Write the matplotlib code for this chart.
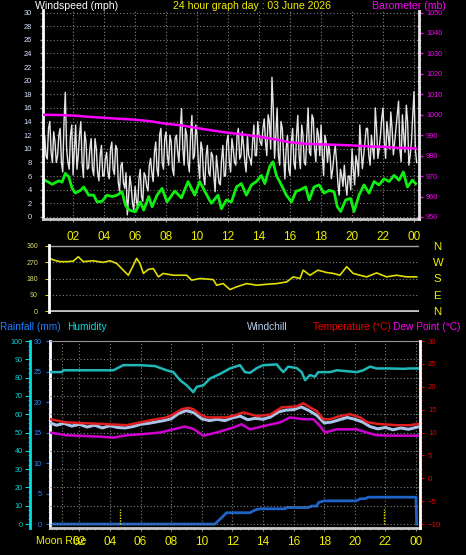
import numpy as np
import matplotlib

matplotlib.use("Agg")
import matplotlib.pyplot as plt  # noqa: E402
from matplotlib.ticker import MultipleLocator  # noqa: E402

plt.rcParams["font.family"] = ["Liberation Sans", "DejaVu Sans"]

# ── data ─────────────────────────────────────────────────────────────────────
HOUR_TICKS = [2, 4, 6, 8, 10, 12, 14, 16, 18, 20, 22, 24]
HOUR_LABELS = ["02", "04", "06", "08", "10", "12", "14", "16", "18", "20", "22", "00"]

# wind gust readings on the 10-minute marks from 00:00 (mph)
gust_on = [
    10, 12, 8.5, 14, 8, 11,
    9, 13, 6.6, 18.3, 8, 12,
    6.2, 13.5, 9, 14, 5.8, 11,
    7.2, 11.5, 6.1, 10, 5.3, 10.5,
    6, 9.5, 5.6, 11, 6.2, 10,
    3.8, 8, 4.2, 0.3, 6, 2,
    4.5, 1.3, 7, 2.3, 6, 3.8,
    8.6, 5.2, 11, 6, 13, 7,
    12.5, 7.6, 11, 6.1, 12, 8,
    15.9, 7.6, 12, 6.6, 14.9, 9,
    12, 5.6, 10, 4.7, 10.5, 6,
    9, 3.7, 7, 4.7, 10.5, 6,
    12, 6.6, 10, 7.6, 13, 9,
    10.5, 6.6, 9, 7.6, 13.5, 9,
    12, 10.5, 14.4, 9, 14, 20.5,
    8.6, 16, 7.6, 13, 5.6, 12,
    6.1, 13, 7, 14.9, 7.1, 12,
    7.6, 16, 9, 14.4, 8.1, 12,
    13.5, 6.1, 11, 10.5, 5.6, 9,
    8.1, 3.2, 6, 7.6, 3.2, 6,
    10, 4.7, 8, 13.5, 7.1, 11,
    13, 7.6, 10, 16, 8.6, 12,
    16, 8.6, 12, 15.4, 9.1, 13,
    17, 8.1, 12, 16.4, 7.6, 11,
    18.4, 8,
]
# readings five minutes after each of those marks
gust_off = [
    11, 9, 13, 9.5, 12.5, 8,
    12, 8, 14, 10, 7, 13.5,
    10, 7, 12, 8, 12.5, 7,
    10, 7, 11.5, 6.5, 9, 6,
    8.5, 6.5, 10, 7, 10.5, 5,
    7.5, 5, 6.5, 3, 4.5, 1,
    2.5, 5.5, 3, 6.5, 4.5, 7.5,
    6.5, 9.5, 7, 12, 8, 11.5,
    9, 12, 7, 11.5, 9.5, 13,
    10, 13, 8, 12, 8.5, 13.5,
    8, 11, 6, 9, 6.5, 9.5,
    6, 9, 5, 8.5, 6, 11,
    8, 11.5, 8, 12, 8.5, 12.5,
    8, 12, 8.5, 11, 9, 14,
    11, 13, 11, 15, 10, 16,
    12, 9, 14, 9, 10, 7,
    11, 8, 12, 9, 13.5, 8,
    12, 9.5, 15, 10, 13, 9,
    9, 12, 8, 9, 7, 10.5,
    5, 7, 4.5, 5, 6, 4,
    7, 9, 6, 10, 9, 13,
    9, 12, 8.5, 13, 10, 14.5,
    11, 14, 10, 13, 11, 15,
    10, 15, 9.5, 14, 9, 15,
    10,
]

avg_hours = [0.1, 0.65, 1.08, 1.29, 1.5, 1.72, 1.94, 2.15, 2.47, 2.69, 3.01, 3.33,
             3.55, 3.87, 4.19, 4.52, 4.84, 5.16, 5.38, 5.63, 6.02, 6.34, 6.56, 6.88,
             7.1, 7.42, 7.74, 8.06, 8.56, 8.99, 9.42, 9.85, 10.17, 10.49, 10.92,
             11.35, 11.57, 11.89, 12.22, 12.54, 12.86, 13.18, 13.51, 13.83, 14.15,
             14.37, 14.69, 14.9, 15.12, 15.44, 15.76, 16.09, 16.39, 16.58, 17.01,
             17.23, 17.55, 17.87, 18.19, 18.52, 18.84, 19.05, 19.27, 19.59, 19.91,
             20.13, 20.45, 20.77, 21.1, 21.42, 21.74, 22.06, 22.39, 22.71, 23.03,
             23.31, 23.57, 23.89, 24.1]
avg_wind = [5.5, 4.8, 5.3, 5.1, 6.4, 5.9, 4.2, 3.5, 3.9, 4.4, 3.2, 3.2,
            2.2, 2.3, 3.2, 3.0, 3.2, 3.7, 1.7, 1.0, 0.75, 2.2, 1.0, 3.0,
            1.5, 3.2, 4.2, 2.2, 3.8, 2.8, 5.2, 3.2, 5.2, 3.8, 2.0,
            3.2, 1.2, 2.5, 2.2, 4.4, 4.9, 3.2, 4.7, 5.2, 6.1,
            4.9, 7.4, 8.1, 6.1, 4.7, 3.2, 2.2, 3.8, 3.9, 4.4,
            2.5, 4.4, 4.7, 3.5, 3.9, 3.7, 1.5, 0.8, 2.5, 2.7,
            0.8, 3.2, 4.7, 3.5, 5.2, 4.7, 5.6, 5.2, 6.1, 5.4,
            6.6, 4.4, 5.4, 4.9]

baro_hours = [0.1, 1, 2, 3, 4, 5, 6, 7, 8, 9, 10, 11, 12, 13, 14, 15, 16, 17,
              18, 19, 20, 21, 22, 23, 24.1]
baro = [1000, 999.9, 999.6, 999.0, 998.5, 998.0, 997.6, 996.8, 995.6, 994.8,
        993.5, 992.3, 991.2, 990.3, 989.3, 988.0, 986.5, 985.8, 985.5, 985.3,
        985.0, 984.5, 984.3, 983.8, 983.5]

dir_hours = [0.08, 0.3, 0.73, 1.17, 1.6, 1.93, 2.25, 2.9, 3.56, 4.0, 4.44, 4.76,
             5.2, 5.42, 5.74, 5.96, 6.18, 6.5, 6.83, 7.16, 7.48, 8.14, 9.01, 9.34,
             9.88, 10.75, 10.97, 11.4, 11.84, 12.28, 12.93, 13.59, 14.24, 14.9,
             15.55, 15.98, 16.42, 16.63, 17.07, 17.6, 18.16, 18.6, 19.03, 19.47,
             19.9, 20.34, 20.78, 21.43, 22.08, 22.74, 23.39, 24.05]
wind_dir = [291, 282, 273, 273, 276, 300, 273, 278, 269, 278, 263, 235,
            198, 235, 291, 263, 208, 230, 235, 189, 208, 198, 198, 171,
            180, 174, 143, 152, 119, 134, 152, 143, 148, 152,
            161, 189, 180, 226, 198, 226, 213, 208, 198, 245,
            208, 198, 189, 211, 189, 198, 189, 189]

hum_hours = [0.08, 0.84, 0.95, 4.22, 4.87, 5.96, 6.94, 7.7, 8.14, 8.58, 9.01, 9.34,
             9.44, 9.67, 10.1, 10.54, 11.19, 11.84, 12.5, 12.82, 13.15, 13.59,
             14.02, 14.9, 15.11, 15.33, 15.65, 16.2, 16.53, 16.75, 17.07, 17.4,
             17.61, 18.38, 18.82, 20.12, 20.56, 20.99, 21.43, 22.3, 23.17, 23.61,
             24.15]
humidity = [83, 83, 84, 84, 86.8, 86.8, 86.3, 84, 83, 78.6, 75.8, 73,
            72, 75, 75.8, 79.5, 82, 85, 86.8, 83, 82.6, 85.2,
            86.8, 87.2, 85, 83, 86, 85.2, 83, 78.6, 81.4, 80.5,
            83, 83, 84, 83, 84, 86, 85, 85, 84.8, 85, 85]

temp_hours = [0.08, 1.17, 3.35, 5.09, 5.96, 6.83, 7.7, 8.14, 8.69, 9.12, 9.44,
              9.88, 10.32, 11.63, 12.2, 12.71, 13.59, 14.46, 15.22, 16.2, 16.63,
              17.07, 17.51, 17.94, 18.38, 19.03, 19.69, 20.34, 20.78, 21.43,
              22.74, 23.61, 24.15]
temperature = [12.9, 12.2, 11.9, 11.6, 12.2, 12.8, 13.3, 14.0, 15.1, 15.4, 15.1,
               14.0, 13.3, 13.3, 13.8, 14.4, 13.6, 13.9, 15.5, 15.7, 16.4,
               15.5, 14.7, 12.9, 12.9, 13.6, 14.0, 13.3, 12.3, 11.9,
               11.6, 11.6, 11.9]

chill_hours = [0, 0.5, 1, 1.5, 2, 2.5, 3, 3.5, 4, 4.5, 5, 5.5, 6, 6.5, 7, 7.5, 8,
               8.5, 9, 9.5, 10, 10.5, 11, 11.5, 12, 12.5, 13, 13.5, 14, 14.5, 15,
               15.5, 16, 16.5, 17, 17.5, 18, 18.5, 19, 19.5, 20, 20.5, 21, 21.5,
               22, 22.5, 23, 23.5, 24.1]
windchill = [12.2, 11.6, 12.0, 11.4, 11.8, 11.2, 11.6, 11.0, 11.5, 11.1, 11.0,
             11.3, 11.8, 12.0, 12.3, 12.6, 13.0, 14.2, 14.8, 14.3, 13.0, 12.6,
             12.9, 12.6, 13.2, 13.6, 12.8, 13.1, 12.9, 13.4, 14.5, 14.9, 15.0,
             15.6, 14.8, 13.8, 12.1, 12.3, 12.8, 13.3, 12.9, 12.3, 11.3, 10.8,
             11.1, 10.6, 11.0, 10.7, 11.2]

dew_hours = [0.08, 1.17, 3.35, 4.22, 5.09, 5.96, 7.27, 8.14, 8.9, 9.44, 10.1,
             10.97, 12.06, 12.6, 13.15, 14.02, 15.11, 15.76, 16.63, 17.29, 17.73,
             18.05, 18.82, 20.12, 20.78, 21.43, 22.74, 24.15]
dew_point = [10, 9.4, 9.1, 8.9, 9.4, 9.6, 10, 10.7, 11.3, 10.8, 9.3,
             10, 11.1, 11.8, 10.7, 11.4, 12.2, 13.3, 12.9, 12.9, 11.4,
             10, 10.7, 10.7, 10, 9.4, 9.3, 9.3]

rain_hours = [0.08, 10.86, 11.62, 13.15, 13.48, 13.8, 15.44, 15.55, 16.96, 17.18,
              17.51, 17.62, 17.84, 18.05, 20.12, 20.34, 20.67, 20.88, 24.0, 24.04]
rainfall = [0, 0, 1.85, 1.85, 2.3, 2.5, 2.5, 2.7, 2.7, 2.95,
            2.95, 3.5, 3.7, 3.8, 3.8, 4.15, 4.15, 4.4, 4.4, 0]

moon_hours = [4.65, 21.9]

# ── layout helpers ───────────────────────────────────────────────────────────
W, H = 466, 555
PX = 0.72  # points per pixel at dpi 100
GRID = dict(color="#808080", linestyle=(0, (1, 2)), linewidth=0.8)
TITLE = 7.6


def box(x0, y0, x1, y1):
    return [x0 / W, 1 - y1 / H, (x1 - x0) / W, (y1 - y0) / H]


def fy(y):
    return 1 - y / H


fig = plt.figure(figsize=(W / 100, H / 100), dpi=100, facecolor="black")

# ── windspeed / barometer ────────────────────────────────────────────────────
ax_w = fig.add_axes(box(43, 10.5, 419, 219), facecolor="black")
ax_w.set_xlim(0.06, 24.32)
ax_w.set_ylim(-0.3, 30.3)
ax_w.set_yticks(range(0, 31, 2))
ax_w.yaxis.set_minor_locator(MultipleLocator(1))
ax_w.set_xticks(HOUR_TICKS, HOUR_LABELS)
ax_w.xaxis.set_minor_locator(MultipleLocator(0.5))
ax_w.grid(True, **GRID)
ax_w.tick_params(axis="y", colors="#909090", labelcolor="#D8E4FF", labelsize=5.4,
                 length=3 * PX, width=1, pad=8 * PX)
ax_w.tick_params(axis="y", which="minor", colors="#909090", length=2 * PX)
ax_w.tick_params(axis="x", colors="#909090", labelcolor="#F0F000", labelsize=8.5,
                 length=3 * PX, pad=9 * PX)
ax_w.tick_params(axis="x", which="minor", colors="#909090", length=2 * PX)
ax_w.spines["top"].set_visible(False)
ax_w.spines["right"].set_visible(False)
ax_w.spines["left"].set_color("white")
ax_w.spines["left"].set_linewidth(2)
ax_w.spines["bottom"].set_color("#C8C8C8")
ax_w.spines["bottom"].set_linewidth(2)

# interleave the two gust readings into one 5-minute series
gust = np.empty(len(gust_on) + len(gust_off))
gust[0::2] = gust_on
gust[1::2] = gust_off
gust_hours = np.arange(len(gust)) / 12.0
ax_w.plot(gust_hours, gust, color="#E4E4E4", linewidth=1.0)
ax_w.plot(avg_hours, avg_wind, color="#10F010", linewidth=2)

ax_p = ax_w.twinx()
ax_p.set_ylim(949, 1051)
ax_p.set_yticks(range(950, 1051, 10))
ax_p.yaxis.set_minor_locator(MultipleLocator(10 / 3))
ax_p.tick_params(axis="y", colors="#FF00FF", labelsize=5.2, length=4 * PX, width=1,
                 pad=3 * PX)
ax_p.tick_params(axis="y", which="minor", colors="#FF00FF", length=2 * PX)
for s in ("top", "bottom", "left"):
    ax_p.spines[s].set_visible(False)
ax_p.spines["right"].set_color("#E8E8E8")
ax_p.spines["right"].set_linewidth(2)
ax_p.plot(baro_hours, baro, color="#FF00FF", linewidth=1.8)

# ── wind direction ───────────────────────────────────────────────────────────
ax_d = fig.add_axes(box(49, 245, 419, 312), facecolor="black")
ax_d.set_xlim(0.013, 24.2)
ax_d.set_ylim(-5, 365)
ax_d.set_xticks([])
ax_d.set_yticks([0, 90, 180, 270, 360])
ax_d.tick_params(axis="y", colors="#D8D800", labelcolor="#E0E070", labelsize=5,
                 length=4 * PX, pad=7 * PX)
for y in (90, 180, 270):
    ax_d.axhline(y, **GRID)
ax_d.axhline(360, color="#A0A0A0", linewidth=1)
ax_d.axhline(0, color="#C0C0C0", linewidth=2)
for s in ("top", "bottom", "right"):
    ax_d.spines[s].set_visible(False)
ax_d.spines["left"].set_color("white")
ax_d.spines["left"].set_linewidth(2)
ax_d.plot(dir_hours, wind_dir, color="#E0E000", linewidth=1.2)

ax_c = ax_d.twinx()
ax_c.set_ylim(-5, 365)
ax_c.set_yticks([0, 90, 180, 270, 360], ["N", "E", "S", "W", "N"])
ax_c.tick_params(axis="y", length=0, pad=14 * PX, labelsize=8.2, labelcolor="#F0F000")
for s in ax_c.spines.values():
    s.set_visible(False)

# ── rain / humidity / temperature ────────────────────────────────────────────
ax_b = fig.add_axes(box(50, 341, 420, 528), facecolor="black")
ax_b.set_xlim(0.08, 24.26)
ax_b.set_ylim(-0.65, 30)
ax_b.set_xticks(HOUR_TICKS, HOUR_LABELS)
ax_b.xaxis.set_minor_locator(MultipleLocator(0.5))
ax_b.set_yticks(range(0, 31, 5))
ax_b.yaxis.set_minor_locator(MultipleLocator(1))
ax_b.grid(True, axis="x", **GRID)
ax_b.axvline(0.86, **GRID)
ax_b.tick_params(axis="y", colors="#1E6EE0", labelcolor="#2888FF", labelsize=5.2,
                 length=4 * PX, pad=4 * PX)
ax_b.tick_params(axis="y", which="minor", colors="#1E6EE0", length=2 * PX)
ax_b.tick_params(axis="x", colors="#909090", labelcolor="#F0F000", labelsize=8.5,
                 length=3 * PX, pad=5 * PX)
ax_b.tick_params(axis="x", which="minor", colors="#909090", length=2 * PX)
ax_b.spines["top"].set_color("#A0A0A0")
ax_b.spines["left"].set_color("white")
ax_b.spines["left"].set_linewidth(2)
ax_b.spines["right"].set_visible(False)
ax_b.spines["bottom"].set_color("#C8C8C8")
ax_b.spines["bottom"].set_linewidth(2)
ax_b.plot(rain_hours, rainfall, color="#1E64C8", linewidth=2)
ax_b.vlines(moon_hours, 0, 2.45, color="#F0F000", linestyle=(0, (1, 1)), linewidth=1)

ax_h = ax_b.twinx()
ax_h.set_ylim(-0.65 * 100 / 30, 100)
ax_h.yaxis.set_ticks_position("left")
ax_h.set_yticks(range(0, 101, 10))
ax_h.yaxis.set_minor_locator(MultipleLocator(2.5))
ax_h.grid(True, axis="y", **GRID)
ax_h.tick_params(axis="y", colors="#00D8D8", labelsize=5.2, length=5 * PX, pad=2 * PX)
ax_h.tick_params(axis="y", which="minor", colors="#00D8D8", length=2 * PX)
for s in ("top", "bottom", "right"):
    ax_h.spines[s].set_visible(False)
ax_h.spines["left"].set_visible(True)
ax_h.spines["left"].set_position(("outward", 20 * PX))
ax_h.spines["left"].set_color("#00E0E0")
ax_h.spines["left"].set_linewidth(2)
ax_h.plot(hum_hours, humidity, color="#20B8B8", linewidth=1.8)

ax_t = ax_b.twinx()
ax_t.set_ylim(-10 - 0.65 * 40 / 30, 30)
ax_t.set_yticks(range(-10, 31, 5))
ax_t.yaxis.set_minor_locator(MultipleLocator(1))
ax_t.tick_params(axis="y", colors="#E00000", labelsize=5.6, length=4 * PX, pad=4 * PX)
ax_t.tick_params(axis="y", which="minor", colors="#E00000", length=2 * PX)
for s in ("top", "bottom", "left"):
    ax_t.spines[s].set_visible(False)
ax_t.spines["right"].set_color("white")
ax_t.spines["right"].set_linewidth(2)
ax_t.plot(chill_hours, windchill, color="#A8C4E8", linewidth=2.2)
ax_t.plot(temp_hours, temperature, color="#E02020", linewidth=1.8)
ax_t.plot(dew_hours, dew_point, color="#D000D0", linewidth=1.8)

# ── titles ───────────────────────────────────────────────────────────────────
fig.text(35 / W, fy(6), "Windspeed (mph)", color="white", fontsize=TITLE, va="center")
fig.text(252 / W, fy(6), "24 hour graph day : 03 June 2026", color="#F0F000",
         fontsize=TITLE, va="center", ha="center")
fig.text(372 / W, fy(6), "Barometer (mb)", color="#FF00FF", fontsize=TITLE, va="center")

fig.text(0, fy(327), "Rainfall (mm)", color="#1E80FF", fontsize=7.3, va="center")
fig.text(67 / W, fy(327), "Humidity", color="#00E0E0", fontsize=7.3, va="center")
fig.text(247 / W, fy(327), "Windchill", color="#B8D0F0", fontsize=7.3, va="center")
fig.text(313 / W, fy(327), "Temperature (°C)", color="#F00000", fontsize=7.3, va="center")
fig.text(393 / W, fy(327), "Dew Point (°C)", color="#FF00FF", fontsize=7.3, va="center")
fig.text(36 / W, fy(541), "Moon Rise", color="#F0F000", fontsize=TITLE, va="center")

fig.savefig("out.png", dpi=100, facecolor="black")
plt.close(fig)
